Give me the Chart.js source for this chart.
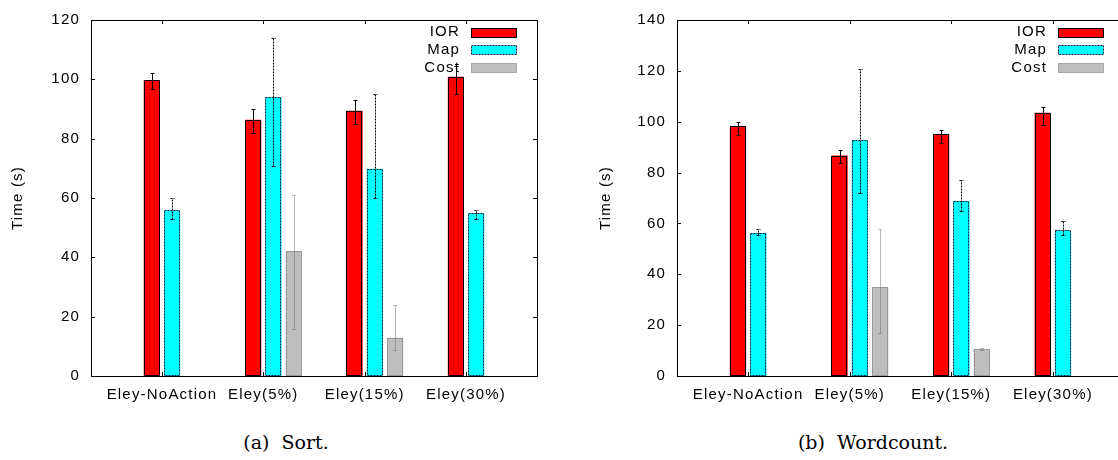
<!DOCTYPE html>
<html>
<head>
<meta charset="utf-8">
<script src="https://cdn.jsdelivr.net/npm/chart.js@4.4.1/dist/chart.umd.min.js"></script>
<style>
  html, body { margin: 0; padding: 0; background: #fff; overflow: hidden; }
  body { width: 1118px; height: 460px; position: relative; }
  .panel { position: absolute; top: 0; }
  .caption {
    position: absolute; top: 431px; line-height: 22px;
    font-family: "DejaVu Serif", "Liberation Serif", serif; font-size: 19px;
    color: #000; white-space: pre; transform: translateX(-50%);
  }
</style>
</head>
<body>
<div class="panel" style="left:0"><canvas id="sortChart" width="560" height="420"></canvas></div>
<div class="panel" style="left:560px"><canvas id="wcChart" width="580" height="420"></canvas></div>
<div class="caption" style="left:286px">(a)  Sort.</div>
<div class="caption" style="left:873px">(b)  Wordcount.</div>
<script>
const categories = ["Eley-NoAction", "Eley(5%)", "Eley(15%)", "Eley(30%)"];
const seriesNames = ["IOR", "Map", "Cost"];

// (a) Sort
const sortIor = [99.8, 86.4, 89.4, 100.9];
const sortIorErr = [[96.8, 102], [81.9, 90], [84.8, 93], [94.9, 104.6]];
const sortMap = [55.8, 94, 69.9, 54.9];
const sortMapErr = [[52.9, 59.9], [70.9, 114], [59.9, 94.9], [52.9, 56]];
const sortCost = [null, 42.1, 12.9, null];
const sortCostErr = [null, [15.8, 61.1], [8.9, 24.1], null];
const sortTicks = [0, 20, 40, 60, 80, 100, 120];

// (b) Wordcount
const wcIor = [98.2, 86.7, 95.1, 103.5];
const wcIorErr = [[94.7, 100], [83.7, 89], [91.7, 96.9], [98.8, 105.8]];
const wcMap = [56.2, 92.8, 68.8, 57.3];
const wcMapErr = [[55.3, 57.9], [71.8, 120.8], [64.7, 77], [55.3, 60.8]];
const wcCost = [null, 35, 10.6, null];
const wcCostErr = [null, [16.9, 57.9], [10.1, 11], null];
const wcTicks = [0, 20, 40, 60, 80, 100, 120, 140];

// look of each series, gnuplot style
const looks = [
  { fill: "#ff0000", edge: "#000000", dash: [], err: "#000000", errDash: [] },
  { fill: "#00ffff", edge: "#1a1a3a", dash: [2, 1], err: "#000000", errDash: [2, 1] },
  { fill: "#bebebe", edge: "#707070", dash: [1, 1], err: "#707070", errDash: [1, 1] },
];
const offsets = [-0.1, 0.1, 0.3];
const font = { family: "'Liberation Sans', Arial, sans-serif", size: 15 };

const frame = {
  id: "frame",
  beforeLayout(chart) { chart.ctx.letterSpacing = "1.2px"; },
  beforeDraw(chart) { chart.ctx.letterSpacing = "1.2px"; },
  afterDatasetsDraw(chart) {
    const ctx = chart.ctx;
    const a = chart.chartArea;
    const xs = chart.scales.x;
    const ys = chart.scales.y;
    ctx.save();
    ctx.lineWidth = 1;

    // bar outlines
    chart.data.datasets.forEach((ds, di) => {
      const meta = chart.getDatasetMeta(di);
      ctx.strokeStyle = looks[di].edge;
      ctx.setLineDash(looks[di].dash);
      meta.data.forEach((bar, i) => {
        if (ds.data[i].y == null) return;
        const p = bar.getProps(["x", "y", "base", "width"], true);
        ctx.strokeRect(Math.round(p.x - p.width / 2) + 0.5, Math.round(p.y) + 0.5,
          Math.round(p.width) - 1, Math.round(p.base - p.y) - 1);
      });
    });

    // frame and inward ticks
    ctx.setLineDash([]);
    ctx.strokeStyle = "#000";
    ctx.strokeRect(Math.round(a.left) + 0.5, Math.round(a.top) + 0.5,
      Math.round(a.right - a.left), Math.round(a.bottom - a.top));
    ctx.beginPath();
    ys.ticks.forEach((t) => {
      const y = Math.round(ys.getPixelForValue(t.value)) + 0.5;
      ctx.moveTo(a.left, y); ctx.lineTo(a.left + 4, y);
      ctx.moveTo(a.right, y); ctx.lineTo(a.right - 4, y);
    });
    xs.ticks.forEach((t) => {
      const x = Math.round(xs.getPixelForValue(t.value)) + 0.5;
      ctx.moveTo(x, a.top); ctx.lineTo(x, a.top + 4);
      ctx.moveTo(x, a.bottom); ctx.lineTo(x, a.bottom - 4);
    });
    ctx.stroke();

    // legend, text left of the sample box
    ctx.font = font.size + "px " + font.family;
    ctx.textAlign = "right";
    ctx.textBaseline = "middle";
    chart.data.datasets.forEach((ds, di) => {
      const cy = a.top + 12 + di * 17.7;
      ctx.fillStyle = "#000";
      ctx.fillText(ds.label, a.right - 77, cy);
      const bx = Math.round(a.right - 66) + 0.5;
      const by = Math.round(cy - 4.5) + 0.5;
      ctx.fillStyle = looks[di].fill;
      ctx.fillRect(bx, by, 45, 9);
      ctx.strokeStyle = looks[di].edge;
      ctx.setLineDash(looks[di].dash);
      ctx.strokeRect(bx, by, 45, 9);
    });

    // error bars
    chart.data.datasets.forEach((ds, di) => {
      const meta = chart.getDatasetMeta(di);
      ctx.strokeStyle = looks[di].err;
      ctx.setLineDash(looks[di].errDash);
      ds.err.forEach((e, i) => {
        if (!e) return;
        const x = Math.round(meta.data[i].x) + 0.5;
        const lo = Math.round(ys.getPixelForValue(e[0])) + 0.5;
        const hi = Math.round(ys.getPixelForValue(e[1])) + 0.5;
        ctx.beginPath();
        ctx.moveTo(x, lo); ctx.lineTo(x, hi);
        ctx.moveTo(x - 2, lo); ctx.lineTo(x + 2, lo);
        ctx.moveTo(x - 2, hi); ctx.lineTo(x + 2, hi);
        ctx.stroke();
      });
    });
    ctx.restore();
  },
};

function makeChart(id, vals, errs, yTicks, yWidth, padRight, titlePad) {
  return new Chart(document.getElementById(id), {
    type: "bar",
    data: {
      datasets: seriesNames.map((name, s) => ({
        label: name,
        data: vals[s].map((v, i) => ({ x: i + offsets[s], y: v })),
        err: errs[s],
        backgroundColor: looks[s].fill,
        borderWidth: 0,
        grouped: false,
        barPercentage: 0.8,
        categoryPercentage: 1,
      })),
    },
    options: {
      responsive: false,
      animation: false,
      layout: { padding: { left: 0, top: 9, right: padRight, bottom: 0 } },
      plugins: { legend: { display: false }, tooltip: { enabled: false } },
      scales: {
        x: {
          type: "linear",
          offset: false,
          min: -0.7,
          max: 3.7,
          afterBuildTicks: (scale) => {
            scale.ticks = categories.map((c, i) => ({ value: i }));
          },
          afterFit: (scale) => { scale.height = 44; },
          grid: { display: false, drawTicks: false },
          border: { display: false },
          ticks: {
            padding: 10,
            color: "#000",
            font: font,
            autoSkip: false,
            maxRotation: 0,
            callback: (v, i) => categories[i],
          },
        },
        y: {
          min: 0,
          max: yTicks[yTicks.length - 1],
          afterBuildTicks: (scale) => {
            scale.ticks = yTicks.map((v) => ({ value: v }));
          },
          afterFit: (scale) => { scale.width = yWidth; },
          grid: { display: false, drawTicks: false },
          border: { display: false },
          ticks: { padding: 11, color: "#000", font: font },
          title: {
            display: true,
            text: "Time (s)",
            color: "#000",
            font: font,
            padding: { top: titlePad, bottom: 0 },
          },
        },
      },
    },
    plugins: [frame],
  });
}

makeChart("sortChart", [sortIor, sortMap, sortCost], [sortIorErr, sortMapErr, sortCostErr],
  sortTicks, 91, 23, 9);
makeChart("wcChart", [wcIor, wcMap, wcCost], [wcIorErr, wcMapErr, wcCostErr],
  wcTicks, 117, 16, 37);
</script>
</body>
</html>
